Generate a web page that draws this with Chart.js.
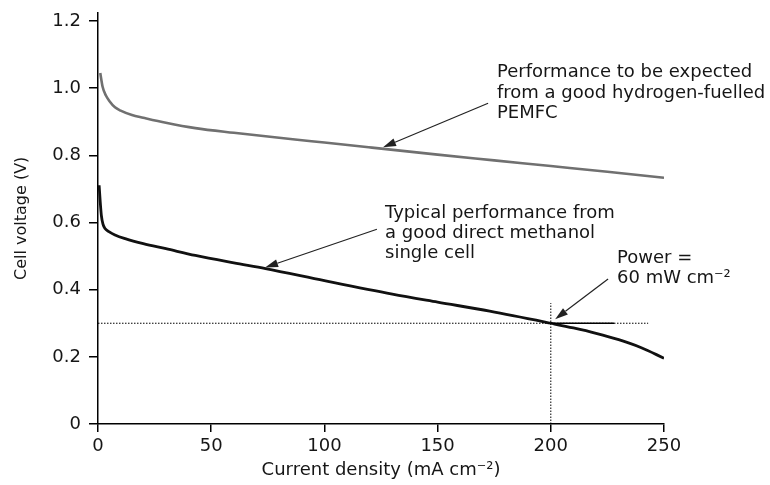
<!DOCTYPE html>
<html>
<head>
<meta charset="utf-8">
<script src="https://cdn.jsdelivr.net/npm/chart.js@4"></script>
<style>
  html, body { margin: 0; padding: 0; background: #fff; }
  #wrap { width: 770px; height: 485px; }
</style>
</head>
<body>
<div id="wrap"><canvas id="myChart" width="770" height="485"></canvas></div>
<script>
    // hydrogen PEMFC curve (grey)
    const h2Current = [1, 2, 3.5, 5, 7.5, 10, 15, 20, 30, 43, 60, 87, 100, 121, 150, 175, 200, 225, 250];
    const h2Voltage = [1.045, 1.005, 0.978, 0.962, 0.943, 0.933, 0.92, 0.912, 0.897, 0.881, 0.867, 0.847, 0.838, 0.823, 0.802, 0.785, 0.768, 0.751, 0.733];

    // direct methanol single cell (black)
    const dmfcCurrent = [0.5, 1, 1.5, 2.2, 3, 5, 7.5, 12, 20, 30, 43, 60, 74, 100, 130, 150, 173, 200, 210, 220, 230, 240, 250];
    const dmfcVoltage = [0.711, 0.66, 0.62, 0.595, 0.583, 0.572, 0.563, 0.552, 0.537, 0.522, 0.502, 0.480, 0.463, 0.427, 0.387, 0.363, 0.336, 0.300, 0.286, 0.270, 0.251, 0.227, 0.196];

    // 60 mW cm-2 operating point guides
    const powerHLineX = [0, 243];
    const powerHLineY = [0.3, 0.3];
    const powerVLineX = [200, 200];
    const powerVLineY = [0, 0.36];
    const powerMarkX = [200, 228];
    const powerMarkY = [0.3, 0.3];

    const xTicks = [0, 50, 100, 150, 200, 250];
    const yTicks = [0, 0.2, 0.4, 0.6, 0.8, 1.0, 1.2];

    // annotation arrows: [tailX, tailY, headX, headY] in data units
    const arrows = [
        [172.3, 0.955, 125.9, 0.824],
        [123.2, 0.580, 73.8, 0.466],
        [225.3, 0.432, 201.9, 0.312]
    ];

    const pts = (xs, ys) => xs.map((x, i) => ({x: x, y: ys[i]}));

    const FONT = '"DejaVu Sans", sans-serif';

    const annotations = {
        id: 'annotations',
        afterDatasetsDraw(chart) {
            const c = chart.ctx;
            const xs = chart.scales.x, ys = chart.scales.y;
            c.save();
            c.strokeStyle = '#222';
            c.fillStyle = '#222';
            c.lineWidth = 1.2;
            arrows.forEach(a => {
                const x1 = xs.getPixelForValue(a[0]), y1 = ys.getPixelForValue(a[1]);
                const x2 = xs.getPixelForValue(a[2]), y2 = ys.getPixelForValue(a[3]);
                const ang = Math.atan2(y2 - y1, x2 - x1);
                const len = 13, wid = 4;
                const bx = x2 - len * Math.cos(ang), by = y2 - len * Math.sin(ang);
                c.beginPath();
                c.moveTo(x1, y1);
                c.lineTo(bx, by);
                c.stroke();
                c.beginPath();
                c.moveTo(x2, y2);
                c.lineTo(bx + wid * Math.sin(ang), by - wid * Math.cos(ang));
                c.lineTo(bx - wid * Math.sin(ang), by + wid * Math.cos(ang));
                c.closePath();
                c.fill();
            });

            c.fillStyle = '#161616';
            c.font = '18px ' + FONT;
            c.textAlign = 'left';
            c.textBaseline = 'alphabetic';
            const txt = (lines, x, y, step) => lines.forEach((l, i) => c.fillText(l, x, y + i * step));
            txt(['Performance to be expected', 'from a good hydrogen-fuelled', 'PEMFC'], 497, 77, 20.5);
            txt(['Typical performance from', 'a good direct methanol', 'single cell'], 385, 218, 20);
            txt(['Power =', '60 mW cm\u207B\u00B2'], 617, 263, 20);
            c.restore();
        }
    };

    let ctx = document.getElementById('myChart');

    new Chart(ctx, {
        type: 'scatter',
        data: {
            datasets: [
                {
                    data: pts(powerHLineX, powerHLineY),
                    showLine: true, borderColor: '#000', borderWidth: 1, borderDash: [1.5, 1.5],
                    pointRadius: 0
                },
                {
                    data: pts(powerVLineX, powerVLineY),
                    showLine: true, borderColor: '#000', borderWidth: 1, borderDash: [1.5, 1.5],
                    pointRadius: 0
                },
                {
                    data: pts(powerMarkX, powerMarkY),
                    showLine: true, borderColor: '#000', borderWidth: 1.6,
                    pointRadius: 0
                },
                {
                    label: 'Hydrogen PEMFC',
                    data: pts(h2Current, h2Voltage),
                    showLine: true, borderColor: '#707070', borderWidth: 2.6,
                    cubicInterpolationMode: 'monotone',
                    pointRadius: 0
                },
                {
                    label: 'Direct methanol',
                    data: pts(dmfcCurrent, dmfcVoltage),
                    showLine: true, borderColor: '#111', borderWidth: 2.8,
                    cubicInterpolationMode: 'monotone',
                    pointRadius: 0
                }
            ]
        },
        options: {
            responsive: false,
            animation: false,
            layout: { padding: { top: 12.6, right: 106, left: 0, bottom: 0 } },
            plugins: { legend: { display: false }, tooltip: { enabled: false } },
            scales: {
                x: {
                    type: 'linear',
                    min: 0, max: 250,
                    afterBuildTicks: s => { s.ticks = xTicks.map(v => ({value: v})); },
                    afterFit: s => { s.height = 61; s.paddingLeft = 0; s.paddingRight = 0; },
                    ticks: { color: '#161616', font: { family: FONT, size: 18 }, padding: 4, maxRotation: 0 },
                    grid: { drawOnChartArea: false, tickLength: 8, color: '#000', lineWidth: 1.5 },
                    border: { display: true, color: '#000', width: 1.5 },
                    title: {
                        display: true, text: 'Current density (mA cm\u207B\u00B2)',
                        color: '#161616', font: { family: FONT, size: 18 },
                        padding: { top: 0, bottom: 4 }
                    }
                },
                y: {
                    type: 'linear',
                    min: 0, max: 1.225,
                    afterBuildTicks: s => { s.ticks = yTicks.map(v => ({value: v})); },
                    afterFit: s => { s.width = 98; s.paddingTop = 0; s.paddingBottom = 0; },
                    ticks: {
                        color: '#161616', font: { family: FONT, size: 18 }, padding: 8,
                        callback: v => v === 0 ? '0' : v.toFixed(1)
                    },
                    grid: { drawOnChartArea: false, tickLength: 9, color: '#000', lineWidth: 1.5 },
                    border: { display: true, color: '#000', width: 1.5 },
                    title: {
                        display: true, text: 'Cell voltage (V)',
                        color: '#161616', font: { family: FONT, size: 16 },
                        padding: { top: 12, bottom: 0 }
                    }
                }
            }
        },
        plugins: [annotations]
    });
</script>
</body>
</html>
